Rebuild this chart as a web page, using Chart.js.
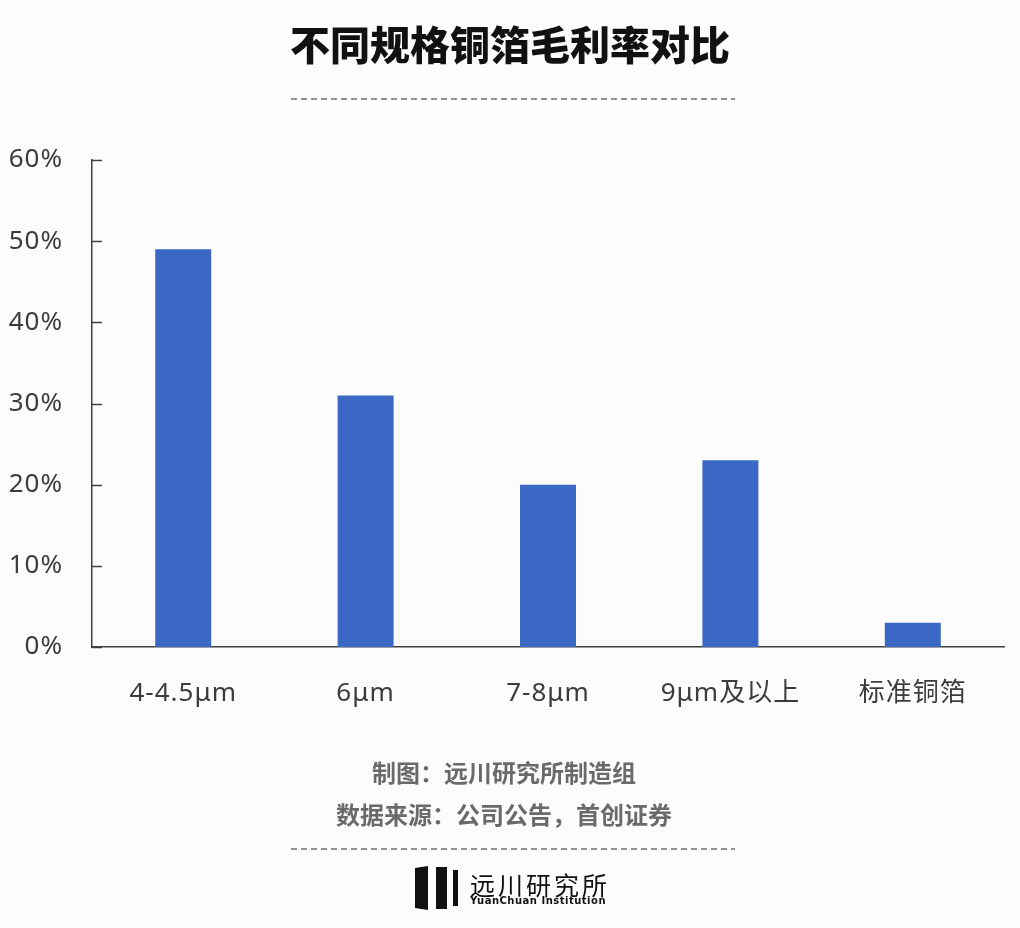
<!DOCTYPE html>
<html>
<head>
<meta charset="utf-8">
<script src="https://cdn.jsdelivr.net/npm/chart.js@4"></script>
<style>
    html, body { margin: 0; padding: 0; background: #fcfcfc; }
    #wrap { position: relative; width: 1020px; height: 928px; overflow: hidden; font-family: "Noto Sans CJK SC", "Noto Sans", sans-serif; }
    #chart { position: absolute; left: 0; top: 0; }
    .title { position: absolute; left: 0; width: 1020px; top: 14px; text-align: center; font-size: 40px; font-weight: 900; color: #111; }
    .dash { position: absolute; left: 291px; }
    .note { position: absolute; left: -6px; width: 1020px; text-align: center; font-size: 24px; font-weight: bold; color: #6a6a6a; }
    .logo { position: absolute; left: 414px; top: 866px; }
    .logo-cn { position: absolute; left: 470px; top: 866px; font-size: 25px; letter-spacing: 3px; color: #111; }
    .logo-en { position: absolute; left: 470px; top: 895px; font-size: 10px; font-weight: bold; color: #111; letter-spacing: 0.5px; font-family: "DejaVu Sans", sans-serif; }
</style>
</head>
<body>
<div id="wrap">
    <canvas id="chart" width="1020" height="928"></canvas>
    <div class="title">不同规格铜箔毛利率对比</div>
    <svg class="dash" style="top: 97px;" width="444" height="4"><line x1="0" y1="2" x2="444" y2="2" stroke="#6e6e6e" stroke-width="1.3" stroke-dasharray="6,4"/></svg>
    <div class="note" style="top: 754px;">制图：远川研究所制造组</div>
    <div class="note" style="top: 796px;">数据来源：公司公告，首创证券</div>
    <svg class="dash" style="top: 847px;" width="444" height="4"><line x1="0" y1="2" x2="444" y2="2" stroke="#6e6e6e" stroke-width="1.3" stroke-dasharray="6,4"/></svg>
    <svg class="logo" width="50" height="44" viewBox="0 0 50 44">
        <polygon points="1,2 14,0 14,44 1,42" fill="#111"/>
        <rect x="22" y="1" width="11" height="42" fill="#111"/>
        <rect x="39" y="4" width="5" height="36" fill="#111"/>
    </svg>
    <div class="logo-cn">远川研究所</div>
    <div class="logo-en">YuanChuan Institution</div>
</div>
<script>
var categories = ["4-4.5μm", "6μm", "7-8μm", "9μm及以上", "标准铜箔"];
var grossMargin = [49, 31, 20, 23, 3];
var yTicks = [0, 10, 20, 30, 40, 50, 60];

var axisColor = "#404040";
var labelColor = "#3c3c3c";
var labelFont = { family: "'Noto Sans', 'Noto Sans CJK SC', sans-serif", size: 26 };

// wider letter spacing for the axis labels, like the original
var spacing = {
    id: "spacing",
    beforeDraw: function (chart) {
        chart.ctx.letterSpacing = "1px";
    }
};

// short tick marks on the inner side of the y axis
var innerTicks = {
    id: "innerTicks",
    afterDraw: function (chart) {
        var ctx = chart.ctx;
        var y = chart.scales.y;
        var left = chart.chartArea.left;
        ctx.save();
        ctx.strokeStyle = axisColor;
        ctx.lineWidth = 1.5;
        y.ticks.forEach(function (t, i) {
            var py = Math.round(y.getPixelForTick(i)) + 0.5;
            ctx.beginPath();
            ctx.moveTo(left, py);
            ctx.lineTo(left + 10, py);
            ctx.stroke();
        });
        ctx.restore();
    }
};

var chart = new Chart(document.getElementById("chart"), {
    type: "bar",
    data: {
        labels: categories,
        datasets: [
            {
                data: grossMargin,
                backgroundColor: "#3b68c5",
                borderWidth: 0,
                barPercentage: 0.307,
                categoryPercentage: 1
            }
        ]
    },
    options: {
        responsive: false,
        animation: false,
        devicePixelRatio: 1,
        layout: {
            padding: { top: 160, right: 16, bottom: 221, left: 0 }
        },
        scales: {
            x: {
                grid: { display: false, drawTicks: false },
                border: { display: true, color: axisColor, width: 1.5 },
                ticks: { color: labelColor, font: labelFont, padding: 31, maxRotation: 0 },
                afterFit: function (scale) { scale.height = 60; }
            },
            y: {
                min: 0,
                max: 60,
                afterBuildTicks: function (scale) {
                    scale.ticks = yTicks.map(function (v) { return { value: v }; });
                },
                grid: { display: false, drawTicks: false },
                border: { display: true, color: axisColor, width: 1.5 },
                ticks: {
                    color: labelColor,
                    font: labelFont,
                    padding: 29,
                    callback: function (v) { return v + "%"; }
                },
                afterFit: function (scale) { scale.width = 92; }
            }
        },
        plugins: {
            legend: { display: false },
            tooltip: { enabled: false }
        }
    },
    plugins: [spacing, innerTicks]
});
</script>
</body>
</html>
